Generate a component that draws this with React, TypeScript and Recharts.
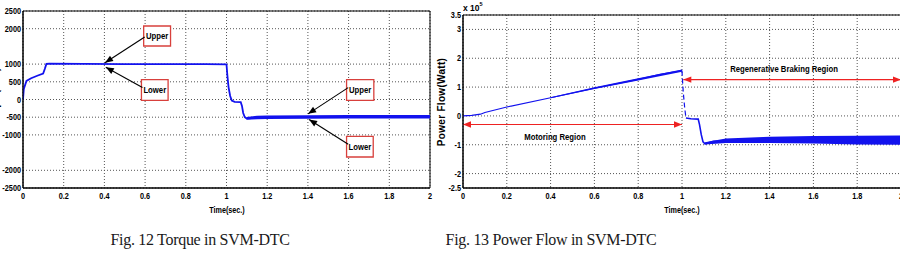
import React from "react";
import {
  Area,
  CartesianGrid,
  ComposedChart,
  Line,
  ReferenceArea,
  ReferenceDot,
  ReferenceLine,
  XAxis,
  YAxis,
} from "recharts";

// shared time axis (sec.)
const timeTicks = [0, 0.2, 0.4, 0.6, 0.8, 1, 1.2, 1.4, 1.6, 1.8, 2];

// Fig. 12 - torque in SVM-DTC
const torqueTicks = [-2500, -2000, -1000, -500, 0, 500, 1000, 2000, 2500];
const torqueTime = [
  0, 0.004, 0.017, 0.04, 0.07, 0.099, 0.107, 0.115, 0.13, 0.3, 0.5, 0.7, 0.9, 1,
  1.004, 1.01, 1.018, 1.026, 1.04, 1.07, 1.076, 1.082, 1.09, 1.098, 1.11, 1.15,
  1.2, 1.4, 1.6, 1.8, 2,
];
const torqueValue = [
  0, 300, 525, 600, 670, 735, 860, 1005, 1015, 1005, 1000, 1000, 1000, 995,
  700, 350, 100, -30, -65, -75, -180, -380, -500, -535, -530, -510,
  -500, -495, -490, -490, -490,
];
// ripple band once the torque reverses
const torqueRippleTime = [1.098, 1.15, 1.2, 1.4, 1.6, 1.8, 2];
const torqueRippleLow = [-575, -560, -550, -545, -540, -540, -540];
const torqueRippleHigh = [-495, -460, -450, -445, -440, -440, -440];

// Fig. 13 - power flow, x 10^5 W
const powerTicks = [-2.5, -2, -1, 0, 1, 2, 3, 3.5];
const motoringTime = [0, 0.04, 0.08, 0.1, 0.2, 0.4, 0.6, 0.8, 0.9, 1];
const motoringPower = [0, 0.02, 0.06, 0.12, 0.31, 0.63, 0.96, 1.27, 1.44, 1.57];
const motoringRippleTime = [0.4, 0.6, 0.8, 1];
const motoringRippleLow = [0.61, 0.93, 1.23, 1.53];
const motoringRippleHigh = [0.65, 0.99, 1.31, 1.61];
const reversalTime = [1, 1.002, 1.006, 1.012, 1.018];
const reversalPower = [1.57, 1.26, 0.8, 0.3, -0.07];
const brakingTime = [1.018, 1.04, 1.074, 1.08, 1.088, 1.096, 1.105, 1.12, 1.143, 1.2];
const brakingPower = [-0.07, -0.1, -0.11, -0.3, -0.65, -0.9, -0.97, -0.93, -0.88, -0.86];
const brakingRippleTime = [1.105, 1.2, 1.4, 1.6, 1.8, 2];
const brakingRippleLow = [-0.99, -0.94, -0.94, -0.96, -0.99, -1.0];
const brakingRippleHigh = [-0.91, -0.78, -0.72, -0.7, -0.69, -0.68];

const rows = (xs: number[], ys: number[]) => xs.map((t, i) => ({ t, v: ys[i] }));
const bandRows = (xs: number[], lo: number[], hi: number[]) =>
  xs.map((t, i) => ({ t, band: [lo[i], hi[i]] }));

const BLUE = "#1212ee";
const RED = "#ee2222";
const BOX = "#d8403c";
const SANS = "'Liberation Sans', Arial, sans-serif";
const boldText = { fontFamily: SANS, fontWeight: 700, fill: "#000" };

// MATLAB-style labels are a condensed bold sans, squeeze horizontally
function Narrow(props: {
  x: number;
  y: number;
  text: string;
  size: number;
  squeeze: number;
  anchor?: string;
  dy?: number;
  rotate?: number;
  spacing?: number;
}) {
  const { x, y, text, size, squeeze, anchor = "middle", dy = 0, rotate = 0, spacing = 0 } = props;
  return (
    <g transform={`translate(${x},${y}) rotate(${rotate}) scale(${squeeze},1)`}>
      <text x={0} y={0} dy={dy} textAnchor={anchor as any} fontSize={size} letterSpacing={spacing} {...boldText}>
        {text}
      </text>
    </g>
  );
}

const BottomTick = (p: any) => (
  <Narrow x={p.x} y={p.y} text={String(p.payload.value)} size={8.5} squeeze={0.86} dy={7} />
);
const LeftTick = (p: any) => (
  <Narrow x={p.x} y={p.y} text={String(p.payload.value)} size={8.5} squeeze={0.86} anchor="end" dy={3} />
);

const noteLabel = (text: string) => (p: any) => {
  const vb = p.viewBox || {};
  const cx = (vb.x ?? 0) + (vb.width ?? 0) / 2;
  const cy = (vb.y ?? 0) + (vb.height ?? 0) / 2;
  return <Narrow x={cx} y={cy} text={text} size={9} squeeze={0.86} dy={3.2} />;
};

function arrowShape(color: string, both: boolean) {
  return (p: any) => {
    const { x1, y1, x2, y2 } = p;
    const head = (hx: number, hy: number, fx: number, fy: number) => {
      const a = Math.atan2(hy - fy, hx - fx);
      const len = 8;
      const w = 3.2;
      const bx = hx - len * Math.cos(a);
      const by = hy - len * Math.sin(a);
      const nx = -Math.sin(a) * w;
      const ny = Math.cos(a) * w;
      return (
        <polygon
          points={`${hx},${hy} ${bx + nx},${by + ny} ${bx - nx},${by - ny}`}
          fill={color}
        />
      );
    };
    return (
      <g>
        <line x1={x1} y1={y1} x2={x2} y2={y2} stroke={color} strokeWidth={1.1} />
        {head(x2, y2, x1, y1)}
        {both && head(x1, y1, x2, y2)}
      </g>
    );
  };
}

const blackArrow = arrowShape("#000", false);
const redArrow = arrowShape(RED, true);

function timeAxis() {
  return (
    <XAxis
      dataKey="t"
      type="number"
      domain={[0, 2]}
      ticks={timeTicks}
      interval={0}
      tick={BottomTick}
      tickLine={false}
      tickSize={4}
      tickMargin={0}
      height={27}
      axisLine={{ stroke: "#000" }}
      allowDataOverflow
    />
  );
}

function noteBox(x1: number, x2: number, y1: number, y2: number, text: string) {
  return (
    <ReferenceArea
      key={`${text}-${x1}-${y1}`}
      x1={x1}
      x2={x2}
      y1={y1}
      y2={y2}
      fill="#fff"
      fillOpacity={1}
      stroke={BOX}
      strokeWidth={1.3}
      label={{ content: noteLabel(text) }}
    />
  );
}

function TorqueChart() {
  return (
    <ComposedChart
      width={440}
      height={215}
      margin={{ top: 11, right: 10, bottom: 0, left: 0 }}
    >
      <CartesianGrid stroke="#555" strokeDasharray="1 2" />
      {timeAxis()}
      <YAxis
        type="number"
        domain={[-2500, 2500]}
        ticks={torqueTicks}
        interval={0}
        tick={LeftTick}
        tickLine={false}
        tickSize={2}
        tickMargin={0}
        width={23}
        axisLine={{ stroke: "#000" }}
        allowDataOverflow
      />
      <ReferenceArea x1={0} x2={2} y1={-2500} y2={2500} fill="none" stroke="#000" />
      <Area
        data={bandRows(torqueRippleTime, torqueRippleLow, torqueRippleHigh)}
        dataKey="band"
        type="linear"
        stroke="none"
        fill={BLUE}
        fillOpacity={1}
        isAnimationActive={false}
        activeDot={false}
      />
      <Line
        data={rows(torqueTime, torqueValue)}
        dataKey="v"
        type="linear"
        stroke={BLUE}
        strokeWidth={1.8}
        dot={false}
        activeDot={false}
        isAnimationActive={false}
      />
      <ReferenceLine segment={[{ x: 0.598, y: 1766 }, { x: 0.403, y: 1040 }]} shape={blackArrow} />
      <ReferenceLine segment={[{ x: 0.587, y: 336 }, { x: 0.407, y: 910 }]} shape={blackArrow} />
      <ReferenceLine segment={[{ x: 1.598, y: 336 }, { x: 1.401, y: -405 }]} shape={blackArrow} />
      <ReferenceLine segment={[{ x: 1.598, y: -1266 }, { x: 1.406, y: -565 }]} shape={blackArrow} />
      {noteBox(0.593, 0.725, 1511, 2076, "Upper")}
      {noteBox(0.582, 0.713, -23, 562, "Lower")}
      {noteBox(1.59, 1.724, -23, 562, "Upper")}
      {noteBox(1.59, 1.721, -1624, -1040, "Lower")}
    </ComposedChart>
  );
}

function PowerChart() {
  return (
    <ComposedChart
      width={471}
      height={215}
      margin={{ top: 15, right: 0, bottom: 0, left: 0 }}
    >
      <CartesianGrid stroke="#555" strokeDasharray="1 2" />
      {timeAxis()}
      <YAxis
        type="number"
        domain={[-2.5, 3.5]}
        ticks={powerTicks}
        interval={0}
        tick={LeftTick}
        tickLine={false}
        tickSize={2}
        tickMargin={0}
        width={33}
        axisLine={{ stroke: "#000" }}
        allowDataOverflow
      />
      <ReferenceArea x1={0} x2={2} y1={-2.5} y2={3.5} fill="none" stroke="#000" />
      <Area
        data={bandRows(motoringRippleTime, motoringRippleLow, motoringRippleHigh)}
        dataKey="band"
        type="linear"
        stroke="none"
        fill={BLUE}
        fillOpacity={1}
        isAnimationActive={false}
        activeDot={false}
      />
      <Area
        data={bandRows(brakingRippleTime, brakingRippleLow, brakingRippleHigh)}
        dataKey="band"
        type="linear"
        stroke="none"
        fill={BLUE}
        fillOpacity={1}
        isAnimationActive={false}
        activeDot={false}
      />
      <Line
        data={rows(motoringTime, motoringPower)}
        dataKey="v"
        type="linear"
        stroke={BLUE}
        strokeWidth={1.2}
        dot={false}
        activeDot={false}
        isAnimationActive={false}
      />
      <Line
        data={rows(reversalTime, reversalPower)}
        dataKey="v"
        type="linear"
        stroke={BLUE}
        strokeWidth={1.2}
        strokeDasharray="5 3"
        dot={false}
        activeDot={false}
        isAnimationActive={false}
      />
      <Line
        data={rows(brakingTime, brakingPower)}
        dataKey="v"
        type="linear"
        stroke={BLUE}
        strokeWidth={1.6}
        dot={false}
        activeDot={false}
        isAnimationActive={false}
      />
      <ReferenceLine segment={[{ x: 0, y: -0.3 }, { x: 1, y: -0.3 }]} shape={redArrow} />
      <ReferenceLine segment={[{ x: 1.006, y: 1.26 }, { x: 2, y: 1.26 }]} shape={redArrow} />
      <ReferenceDot
        x={0.42}
        y={-0.71}
        r={0}
        fill="none"
        stroke="none"
        label={{ content: noteLabel("Motoring Region") }}
      />
      <ReferenceDot
        x={1.466}
        y={1.64}
        r={0}
        fill="none"
        stroke="none"
        label={{ content: noteLabel("Regenerative Braking Region") }}
      />
    </ComposedChart>
  );
}

export default function App() {
  const captionFont = {
    fontFamily: "'Liberation Serif', 'DejaVu Serif', serif",
    fontSize: 16,
    letterSpacing: -0.3,
    fill: "#1a1a1a",
  };
  return (
    <div
      style={{
        position: "absolute",
        left: 0,
        top: 0,
        width: 900,
        height: 254,
        overflow: "hidden",
        background: "#fff",
      }}
    >
      <div style={{ position: "absolute", left: 0, top: 0 }}>
        <TorqueChart />
      </div>
      <div style={{ position: "absolute", left: 430, top: 0 }}>
        <PowerChart />
      </div>
      <svg
        width={900}
        height={254}
        style={{ position: "absolute", left: 0, top: 0, pointerEvents: "none" }}
      >
        <Narrow x={-1} y={97} text="Torque(N.m)" size={10} squeeze={1} rotate={-90} />
        <Narrow x={227} y={213} text="Time(sec.)" size={9.5} squeeze={0.76} />
        <Narrow x={682} y={213} text="Time(sec.)" size={9.5} squeeze={0.76} />
        <Narrow x={445} y={102} text="Power Flow(Watt)" size={10} squeeze={1} rotate={-90} spacing={0.3} />
        <text x={463} y={11} fontSize={8.5} {...boldText}>
          x 10
          <tspan dy={-5} fontSize={5.5}>
            5
          </tspan>
        </text>
        <text x={200} y={245} textAnchor="middle" {...captionFont}>
          Fig. 12 Torque in SVM-DTC
        </text>
        <text x={551} y={245} textAnchor="middle" {...captionFont}>
          Fig. 13 Power Flow in SVM-DTC
        </text>
      </svg>
    </div>
  );
}
